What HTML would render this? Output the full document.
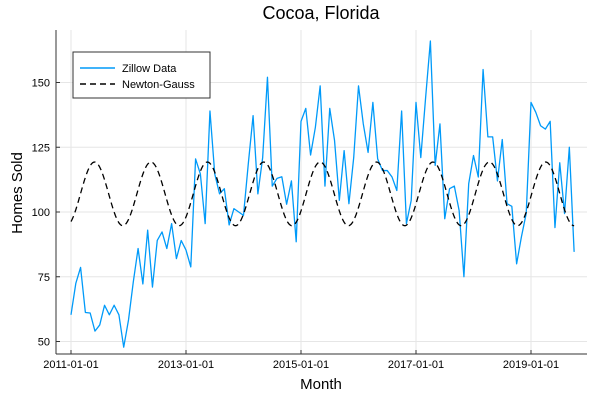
<!DOCTYPE html>
<html><head><meta charset="utf-8"><style>
body{margin:0;background:#fff;}
svg{display:block;font-family:"Liberation Sans","DejaVu Sans",sans-serif;}
</style></head><body>
<svg id="chart" width="600" height="400">
<text x="321" y="19" font-size="18" text-anchor="middle" fill="#000">Cocoa, Florida</text>
<g id="grid"></g>
<g id="series"></g>
<g id="axes"></g>
<text x="321" y="389" font-size="15" text-anchor="middle">Month</text>
<text transform="translate(22,193) rotate(-90)" font-size="15" text-anchor="middle">Homes Sold</text>
<g>
<rect x="73" y="52" width="137" height="46" fill="#fff" stroke="#333" stroke-width="1"/>
<g><line x1="80" y1="68" x2="115" y2="68" stroke="#009af9" stroke-width="1.5"/><text x="122" y="72" font-size="11">Zillow Data</text></g>
<g><line x1="80" y1="84" x2="115" y2="84" stroke="#000" stroke-width="1.5" stroke-dasharray="6,4"/><text x="122" y="88" font-size="11">Newton-Gauss</text></g>
</g>
</svg>
<script>
const zillow=[60.3,72.4,78.6,61.2,61,54,56.4,64,60.3,64,60.3,47.8,58.3,73,85.9,72.2,93,71,89,92.3,85.9,95.5,82,89,85.3,78.8,120.5,114.7,95.5,139,114.7,107,109,95,101.3,100,98.7,118.6,137.2,107,121,152,110,113,113.6,103,112,88.5,135,140,122,132.7,148.7,110,140,127.6,104.5,123.7,103.2,121,148.7,134,123,142.3,120.5,116,116,113.5,108.3,139,95.5,104.5,142.3,121,144,166,118,134,97.4,109,110,100.6,75,110.9,121.8,113.5,155,129,129,112,128,103.2,102.2,80,90.4,99.4,142.3,138.5,133.3,132,135,94,119,99.4,125,84.6];
const fitParams=[107,12.3,4.92,11.77]; // mean, amplitude, peak month, period
const xTickLabels=["2011-01-01","2013-01-01","2015-01-01","2017-01-01","2019-01-01"];
const xTickMonths=[0,24,48,72,96];
const yTicks=[50,75,100,125,150];

const L=56,R=587,T=30,B=354;
const xs=m=>71+m*(460/96);
const ys=v=>212-(v-100)*2.59;
const NS="http://www.w3.org/2000/svg";
function mk(tag,attrs,parent){const e=document.createElementNS(NS,tag);for(const k in attrs)e.setAttribute(k,attrs[k]);parent.appendChild(e);return e;}
const grid=document.getElementById('grid'),axes=document.getElementById('axes'),series=document.getElementById('series');
yTicks.forEach(v=>{
 const g=mk('line',{x1:L,x2:R,y1:ys(v),y2:ys(v),stroke:'#e6e6e6','stroke-width':1},grid);
 
 
 const t=mk('text',{x:L-6,y:ys(v)+4,'font-size':11,'text-anchor':'end'},axes);t.textContent=v;
 
 
 mk('line',{x1:L,x2:L+4,y1:ys(v),y2:ys(v),stroke:'#333'},axes);
});
xTickMonths.forEach((m,i)=>{
 const g=mk('line',{x1:xs(m),x2:xs(m),y1:T,y2:B,stroke:'#e6e6e6','stroke-width':1},grid);
 
 
 const t=mk('text',{x:xs(m),y:B+14,'font-size':11,'text-anchor':'middle'},axes);t.textContent=xTickLabels[i];
 
 
 mk('line',{x1:xs(m),x2:xs(m),y1:B,y2:B-4,stroke:'#333'},axes);
});
mk('line',{x1:L,x2:L,y1:T,y2:B,stroke:'#333','stroke-width':1},axes);
mk('line',{x1:L,x2:R,y1:B,y2:B,stroke:'#333','stroke-width':1},axes);
const zp=mk('polyline',{points:zillow.map((v,i)=>xs(i)+','+ys(v)).join(' '),fill:'none',stroke:'#009af9','stroke-width':1.3,'stroke-linejoin':'round'},series);


const fp=[];const n=zillow.length-1;
for(let k=0;k<=n*4;k++){const m=k/4;const v=fitParams[0]+fitParams[1]*Math.cos(2*Math.PI*(m-fitParams[2])/fitParams[3]);fp.push(xs(m)+','+ys(v));}
const fl=mk('polyline',{points:fp.join(' '),fill:'none',stroke:'#000','stroke-width':1.3,'stroke-dasharray':'6,4'},series);


</script>
</body></html>
